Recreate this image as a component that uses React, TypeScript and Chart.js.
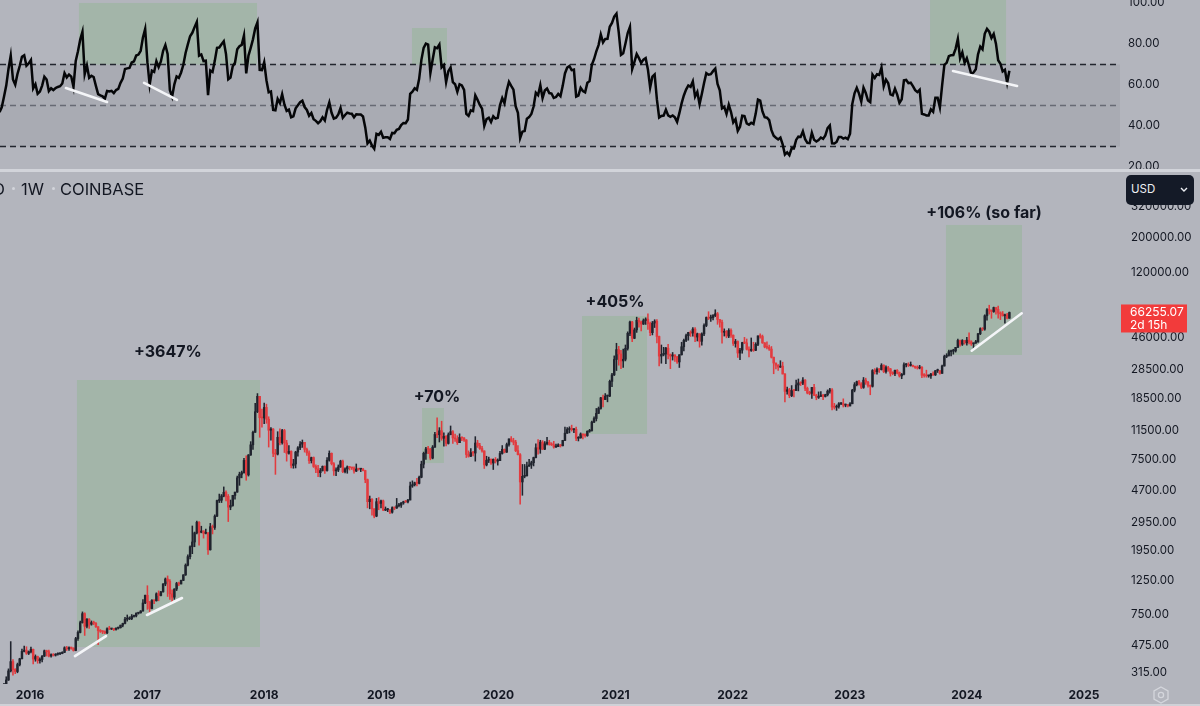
import React, { useEffect, useRef } from "react";
import { Chart, registerables } from "chart.js";

Chart.register(...registerables);

const FONT = "Inter, 'Noto Sans', 'DejaVu Sans', sans-serif";
const BG = "#b3b5bd";
const BAND = "#a9abb3";
const BOX = "#a3b5a9";
const UP = "#20242e";
const DOWN = "#e23b3f";
const INK = "#131722";
const AXIS_W = 80;

// Weekly BTCUSD (Coinbase) bars, first Monday shown
const firstWeekMonday = "2015-09-28";
const barCountdown = "2d 15h";
const rsiLength = 14;

// weekly closes before the visible range (Dec 2014 - Sep 2015), used only to seed RSI
const warmupCloses = [
  264, 265, 210, 253, 226, 223, 234, 245, 260, 275, 286, 268, 252, 260, 236, 223, 219, 240, 240, 237,
  240, 230, 225, 233, 245, 250, 270, 310, 275, 289, 281, 265, 259, 229, 229, 240, 231, 231, 233,
];

const closes = [
  // 2015 (from Sep 28)
  239, 246, 263, 284, 325, 373, 332, 322, 357, 389, 434, 442, 422, 432,
  // 2016
  448, 387, 402, 378, 385, 405, 438, 432, 405, 414, 410, 416, 419, 421, 428, 458, 451, 459, 456, 440,
  525, 575, 665, 760, 630, 700, 650, 665, 660, 625, 590, 585, 581, 572, 607, 605, 608, 601, 613, 617,
  640, 657, 700, 703, 705, 730, 735, 765, 770, 790, 890, 998,
  // 2017
  905, 820, 925, 920, 1020, 995, 1050, 1180, 1270, 1230, 1020, 970, 1095, 1190, 1180, 1245, 1350, 1560,
  1770, 2050, 2200, 2520, 2950, 2540, 2590, 2500, 2510, 1960, 2760, 2730, 3230, 4070, 4090, 4350, 4600,
  4330, 3690, 3780, 4390, 4610, 5700, 6010, 6150, 7380, 5950, 8000, 9300, 11200, 15200, 19100, 13900, 13850,
  // 2018
  16200, 13600, 11550, 11750, 8200, 8100, 10400, 9600, 11500, 9550, 8200, 8450, 6850, 7000, 8350, 8900,
  9400, 9650, 8700, 8250, 7350, 7700, 6750, 6500, 6150, 6350, 6750, 6350, 7400, 8200, 7030, 6320, 6400,
  6700, 7300, 6250, 6500, 6700, 6630, 6600, 6300, 6500, 6480, 6480, 6350, 5550, 4000, 4150, 3600, 3230,
  4000, 3900, 4050,
  // 2019
  3530, 3550, 3550, 3420, 3660, 3640, 3770, 3800, 3930, 4000, 3990, 4100, 5050, 5150, 5300, 5250, 5750,
  6980, 8200, 8750, 8720, 7640, 8990, 10850, 10800, 11450, 10250, 10550, 9500, 10800, 11300, 10300, 10150,
  9600, 10380, 10300, 10000, 8050, 7850, 8300, 8230, 9550, 9200, 8800, 8500, 6900, 7400, 7500, 7100, 7500,
  7300, 7350,
  // 2020
  8180, 8700, 8350, 9340, 10150, 9900, 9670, 8530, 8030, 5360, 5830, 5880, 6780, 6900, 7130, 7700, 8900,
  8720, 9680, 8720, 9450, 9660, 9330, 9300, 9000, 9070, 9300, 9170, 9930, 11050, 11680, 11850, 11650, 11700,
  10250, 10330, 10920, 10740, 10670, 11370, 11500, 13030, 13740, 14830, 15960, 18680, 18200, 19150, 19170,
  23850, 26250, 33000,
  // 2021
  38200, 35800, 32300, 33100, 38900, 48600, 57500, 45200, 51200, 59000, 57500, 55800, 58700, 60000, 56200,
  49100, 56600, 58200, 46400, 34700, 35600, 35800, 39000, 35500, 34700, 35300, 34250, 31800, 35400, 39850,
  43800, 47000, 49300, 48800, 51750, 46000, 48300, 43200, 48200, 54650, 61500, 60900, 61300, 63300, 65000,
  59700, 57300, 49400, 50100, 46700, 50800, 47300,
  // 2022
  41800, 43100, 36300, 37900, 42400, 42200, 38400, 37700, 38400, 37800, 41300, 46800, 46400, 42200, 39700,
  39500, 38500, 34100, 31300, 30300, 29450, 29900, 26600, 20550, 21050, 19300, 20850, 20800, 22600, 23300,
  23200, 24300, 21500, 20050, 19950, 21800, 19400, 18800, 19050, 19450, 19050, 19550, 20600, 21000, 16300,
  16250, 16450, 17100, 17100, 16750, 16850, 16550,
  // 2023
  17100, 20900, 22700, 23750, 22950, 21800, 24300, 23550, 22400, 22150, 28000, 27500, 28450, 28350, 30300,
  27600, 29250, 28700, 26900, 26750, 28100, 27200, 25850, 26500, 30500, 30600, 30150, 30250, 29800, 29300,
  29050, 29400, 26100, 26000, 25850, 25850, 26550, 26250, 27950, 27950, 26850, 29950, 34500, 35050, 37050,
  37400, 37450, 39450, 43750, 41350, 43700, 42250,
  // 2024
  43950, 42850, 41600, 42100, 43000, 48300, 52100, 51700, 63100, 68950, 68400, 67200, 71300, 69350, 65700,
  64900, 63100, 63900, 60800, 66255.07,
];

const highs = [
  249, 250, 270, 298, 335, 502, 385, 336, 365, 392, 450, 470, 465, 437,
  462, 450, 412, 405, 395, 408, 443, 442, 442, 418, 420, 420, 425, 425, 432, 465, 468, 465, 462, 458,
  535, 590, 680, 780, 770, 705, 705, 682, 680, 665, 628, 600, 590, 590, 615, 630, 612, 610, 615, 622,
  642, 660, 720, 745, 725, 750, 745, 770, 775, 795, 935, 1000,
  1150, 910, 935, 930, 1035, 1065, 1060, 1185, 1290, 1330, 1260, 1080, 1100, 1210, 1215, 1250, 1355, 1590,
  1820, 2080, 2790, 2550, 3000, 2980, 2780, 2600, 2660, 2540, 2900, 2830, 3290, 4100, 4480, 4450, 4980,
  4700, 4450, 4100, 4400, 4620, 5850, 6200, 6300, 7600, 7900, 8050, 9750, 11400, 17200, 19890, 19100, 15800,
  17250, 17000, 14100, 12000, 11850, 8700, 11300, 11800, 11700, 11700, 9950, 9200, 8500, 7500, 8450, 9050,
  9760, 9990, 9650, 8850, 8500, 7750, 7770, 6900, 6850, 6550, 6800, 6800, 7700, 8500, 8250, 7150, 6600,
  6900, 7400, 7420, 6600, 6800, 6750, 6650, 6700, 7000, 6550, 6500, 6570, 6380, 5600, 4350, 4190, 3600,
  4200, 4250, 4100,
  4100, 3700, 3620, 3560, 3700, 3700, 4200, 3900, 3950, 4030, 4080, 4150, 5350, 5450, 5350, 5650, 5850,
  7300, 8350, 8950, 9100, 8820, 9200, 11200, 13880, 12000, 13200, 11100, 10650, 11100, 12300, 11500, 10900,
  10650, 10950, 10450, 10350, 10050, 8500, 8800, 8450, 10500, 9950, 9500, 9100, 8500, 7850, 7750, 7550, 7550,
  7700, 7550,
  8450, 9200, 8750, 9550, 10150, 10500, 10250, 9950, 9200, 8180, 6950, 6950, 7200, 7500, 7300, 7750, 9450,
  10050, 9950, 9900, 9750, 10400, 9950, 9600, 9800, 9400, 9450, 9350, 9950, 12100, 12000, 12150, 12450, 11800,
  12100, 10500, 11100, 10950, 10950, 11450, 11700, 13250, 14100, 15950, 16300, 18800, 19450, 19900, 19450,
  24300, 26900, 34800,
  41950, 40100, 37850, 38500, 40900, 49700, 58350, 58000, 52600, 61800, 61000, 58400, 60200, 61200, 64900,
  57500, 58000, 59500, 59600, 46700, 40900, 39500, 39500, 41300, 35800, 36600, 35100, 34600, 35400, 42600,
  44700, 48150, 49400, 50500, 52900, 52950, 48800, 48300, 49000, 56000, 62000, 67000, 63700, 64300, 69000,
  66300, 59500, 59100, 51950, 50700, 52100, 52000,
  47500, 44450, 43500, 38900, 42600, 45800, 44700, 39800, 45400, 42600, 42300, 46900, 48200, 47400, 42400,
  42900, 40800, 40000, 34200, 31300, 30600, 32400, 31700, 26800, 21900, 21500, 22400, 21000, 24300, 24700,
  23700, 25200, 24450, 21900, 20600, 21850, 22800, 19700, 20400, 20500, 19700, 19700, 21000, 21500, 21450,
  17200, 16800, 17400, 17400, 18400, 17050, 16950,
  17400, 21200, 23400, 23950, 24250, 23400, 25250, 25000, 23900, 22600, 28400, 28800, 29200, 28800, 31000,
  30500, 30000, 29800, 28900, 27500, 28200, 28450, 27400, 26800, 31400, 31000, 31400, 31800, 30350, 29900,
  30050, 30250, 29700, 26800, 28150, 26150, 26900, 27500, 28000, 28600, 28000, 30400, 35200, 35950, 37950,
  37950, 38400, 39500, 44700, 44000, 44300, 43800,
  45900, 49050, 43550, 42200, 43850, 48600, 52800, 52900, 64000, 70200, 73800, 68900, 71800, 71300, 72800,
  66900, 67200, 64700, 65500, 66700,
];

const lows = [
  235, 237, 244, 262, 282, 320, 305, 312, 316, 350, 388, 430, 415, 414,
  425, 360, 375, 364, 365, 372, 402, 405, 400, 398, 405, 405, 410, 414, 419, 426, 440, 440, 448, 436,
  438, 510, 570, 660, 550, 615, 610, 640, 645, 620, 480, 575, 565, 565, 565, 600, 600, 590, 595, 605,
  613, 625, 652, 680, 695, 695, 720, 725, 755, 765, 788, 880,
  810, 750, 815, 880, 915, 920, 990, 1045, 1150, 980, 940, 890, 940, 1070, 1150, 1180, 1240, 1340,
  1540, 1710, 1850, 2050, 2480, 2100, 2520, 2330, 2480, 1830, 1950, 2480, 2650, 3200, 3950, 3950, 4300,
  4050, 2980, 3550, 3740, 4160, 4600, 5100, 5700, 6100, 5500, 5850, 7950, 8700, 11200, 15000, 10400, 12100,
  12750, 12800, 9000, 9950, 7800, 6000, 8000, 9300, 9400, 8300, 7300, 8100, 6600, 6570, 6600, 7850,
  8650, 8950, 8350, 7950, 7070, 7100, 6650, 6150, 5800, 5780, 6300, 6080, 6300, 7300, 6900, 5900, 5880,
  6250, 6650, 6150, 6120, 6100, 6400, 6450, 6100, 6250, 6380, 6250, 6320, 5300, 3650, 3600, 3280, 3150,
  3200, 3550, 3650,
  3500, 3500, 3450, 3350, 3380, 3550, 3620, 3700, 3670, 3850, 3950, 3930, 4100, 4950, 5050, 5050, 5200,
  5700, 6600, 7500, 8150, 7450, 7550, 8950, 10350, 9700, 9950, 9100, 9150, 9400, 10800, 9500, 9800,
  9350, 9600, 9900, 9800, 7700, 7750, 7800, 7900, 7300, 8950, 8700, 8350, 6550, 6800, 7150, 6950, 6450,
  7100, 6880,
  7350, 8100, 8250, 8300, 9100, 9700, 9300, 8400, 8000, 3850, 4400, 5700, 5850, 6750, 6550, 6800, 7650,
  8100, 8200, 8650, 8650, 9300, 9250, 9200, 8850, 8950, 9050, 9000, 9150, 9900, 11000, 11100, 11400, 11150,
  9900, 9850, 10250, 10150, 10400, 10550, 11200, 11400, 12900, 13250, 14800, 15800, 16300, 18200, 17600,
  19000, 22000, 26000,
  28000, 30300, 28800, 29300, 32300, 37900, 47000, 43000, 44900, 49300, 53300, 50400, 55400, 55500, 51500,
  47000, 47500, 53000, 42100, 30000, 31200, 34800, 31000, 33300, 28800, 32700, 32100, 31100, 29300, 35200,
  37500, 43000, 43900, 46400, 46600, 43000, 43400, 39600, 40800, 46900, 53700, 59600, 58000, 59400, 62300,
  55600, 53200, 42000, 46700, 45500, 45600, 45700,
  40600, 39600, 34000, 32900, 36200, 41700, 38000, 34300, 37200, 37200, 37600, 40500, 45200, 41900, 39200,
  38600, 37700, 33700, 26700, 28700, 28000, 29300, 26600, 17600, 19700, 18700, 19000, 18900, 20750, 20700,
  22400, 22700, 20800, 19800, 19550, 18500, 19300, 18150, 18500, 19100, 18200, 18900, 19200, 20050, 15600,
  15800, 15500, 16000, 16850, 16300, 16350, 16350,
  16550, 17100, 20400, 22300, 22500, 21400, 21500, 22800, 21900, 19550, 21900, 26600, 26500, 27200, 28200,
  27150, 26950, 27700, 25800, 26300, 25900, 26600, 25400, 24800, 26250, 29500, 29700, 29900, 29500, 28900,
  28600, 28700, 25200, 25350, 25350, 25350, 24900, 26000, 26000, 27200, 26550, 26900, 29900, 33900, 34600,
  34800, 35700, 36800, 39400, 40200, 40600, 41400,
  40800, 41500, 40650, 38500, 41800, 42550, 47700, 50600, 50900, 59000, 64600, 60800, 66400, 64500, 60900,
  59600, 62800, 56500, 60200, 60800,
];

// axis ticks
const yearTicks = [2016, 2017, 2018, 2019, 2020, 2021, 2022, 2023, 2024, 2025];
const priceTicks = [315, 475, 750, 1250, 1950, 2950, 4700, 7500, 11500, 18500, 28500, 46000, 120000, 200000, 320000];
const rsiTicks = [20, 40, 60, 80, 100];
const rsiLevels = [70, 50, 30];
const rsiBand = [30, 70];

// visible ranges
const X_MIN = 2015.744;
const X_MAX = 2025.308;
const PRICE_MIN = 267.6;
const PRICE_MAX = 532500;
const RSI_MIN = 19.02;
const RSI_MAX = 101.46;

// annotations (fractional year, value)
const priceBoxes = [
  { x0: 2016.401, x1: 2017.964, lo: 463, hi: 24330 },
  { x0: 2019.348, x1: 2019.535, lo: 7100, hi: 16060 },
  { x0: 2020.714, x1: 2021.269, lo: 10920, hi: 62900 },
  { x0: 2023.822, x1: 2024.471, lo: 35270, hi: 242600 },
];
const priceLabels = [
  { text: "+3647%", x: 2017.178, y: 36870 },
  { text: "+70%", x: 2019.476, y: 18910 },
  { text: "+405%", x: 2020.996, y: 77410 },
  { text: "+106% (so far)", x: 2024.147, y: 290000 },
];
const priceTrendLines = [
  { x0: 2016.384, y0: 405, x1: 2016.649, y1: 545 },
  { x0: 2016.999, y0: 745, x1: 2017.298, y1: 958 },
  { x0: 2024.042, y0: 37580, x1: 2024.469, y1: 65460 },
];
const rsiBoxes = [
  { x0: 2016.418, x1: 2017.939, lo: 70, hi: 100 },
  { x0: 2019.262, x1: 2019.561, lo: 70, hi: 87.8 },
  { x0: 2023.686, x1: 2024.335, lo: 70, hi: 102 },
];
const rsiTrendLines = [
  { x0: 2016.307, y0: 58.5, x1: 2016.658, y1: 51.7 },
  { x0: 2016.974, y0: 61.0, x1: 2017.255, y1: 52.7 },
  { x0: 2023.882, y0: 66.8, x1: 2024.429, y1: 59.5 },
];

const DAY = 86400000;
const T0 = Date.parse(firstWeekMonday + "T00:00:00Z");
function yearFrac(ms: number) {
  const d = new Date(ms);
  const y = d.getUTCFullYear();
  const a = Date.UTC(y, 0, 1);
  const b = Date.UTC(y + 1, 0, 1);
  return y + (ms - a) / (b - a);
}
function computeRsi(series: number[], n: number) {
  const out: (number | null)[] = [null];
  let up = 0;
  let dn = 0;
  for (let i = 1; i < series.length; i++) {
    const ch = series[i] - series[i - 1];
    const u = Math.max(ch, 0);
    const d = Math.max(-ch, 0);
    if (i <= n) {
      up += u / n;
      dn += d / n;
    } else {
      up = (up * (n - 1) + u) / n;
      dn = (dn * (n - 1) + d) / n;
    }
    out.push(i < n ? null : dn === 0 ? 100 : 100 - 100 / (1 + up / dn));
  }
  return out;
}

const weekX = closes.map((_, i) => yearFrac(T0 + i * 7 * DAY));
const opens = closes.map((_, i) => (i === 0 ? warmupCloses[warmupCloses.length - 1] : closes[i - 1]));
const rsi = computeRsi([...warmupCloses, ...closes], rsiLength).slice(warmupCloses.length);

function clipArea(ctx: any, a: any) {
  ctx.beginPath();
  ctx.rect(a.left, a.top, a.right - a.left, a.bottom - a.top);
  ctx.clip();
}
function drawBoxes(chart: any, boxes: any[]) {
  const { ctx, chartArea: a, scales } = chart;
  ctx.save();
  clipArea(ctx, a);
  ctx.fillStyle = BOX;
  for (const b of boxes) {
    const x0 = scales.x.getPixelForValue(b.x0);
    const x1 = scales.x.getPixelForValue(b.x1);
    const yt = scales.y.getPixelForValue(b.hi);
    const yb = scales.y.getPixelForValue(b.lo);
    ctx.fillRect(x0, yt, x1 - x0, yb - yt);
  }
  ctx.restore();
}
function drawTrend(chart: any, lines: any[]) {
  const { ctx, chartArea: a, scales } = chart;
  ctx.save();
  clipArea(ctx, a);
  ctx.strokeStyle = "#f4f5f8";
  ctx.lineWidth = 2.6;
  ctx.lineCap = "round";
  for (const l of lines) {
    ctx.beginPath();
    ctx.moveTo(scales.x.getPixelForValue(l.x0), scales.y.getPixelForValue(l.y0));
    ctx.lineTo(scales.x.getPixelForValue(l.x1), scales.y.getPixelForValue(l.y1));
    ctx.stroke();
  }
  ctx.restore();
}

const rsiDecor = {
  id: "rsiDecor",
  beforeDatasetsDraw(chart: any) {
    const { ctx, chartArea: a, scales } = chart;
    const y = scales.y;
    ctx.save();
    clipArea(ctx, a);
    const yTop = y.getPixelForValue(rsiBand[1]);
    const yBot = y.getPixelForValue(rsiBand[0]);
    ctx.fillStyle = BAND;
    ctx.fillRect(a.left, yTop, a.right - a.left, yBot - yTop);
    ctx.restore();
    drawBoxes(chart, rsiBoxes);
    ctx.save();
    clipArea(ctx, a);
    ctx.lineWidth = 1.4;
    ctx.setLineDash([6, 4]);
    for (const lv of rsiLevels) {
      ctx.strokeStyle = lv === 50 ? "#676a74" : "#23262f";
      const yy = Math.round(y.getPixelForValue(lv)) + 0.5;
      ctx.beginPath();
      ctx.moveTo(a.left, yy);
      ctx.lineTo(a.right, yy);
      ctx.stroke();
    }
    ctx.restore();
  },
  afterDatasetsDraw(chart: any) {
    drawTrend(chart, rsiTrendLines);
  },
};

const priceDecor = {
  id: "priceDecor",
  beforeDatasetsDraw(chart: any) {
    drawBoxes(chart, priceBoxes);
  },
  afterDatasetsDraw(chart: any) {
    drawTrend(chart, priceTrendLines);
    const { ctx, scales } = chart;
    ctx.save();
    ctx.fillStyle = INK;
    ctx.font = "bold 16px " + FONT;
    ctx.textAlign = "center";
    ctx.textBaseline = "middle";
    for (const t of priceLabels) {
      ctx.fillText(t.text, scales.x.getPixelForValue(t.x), scales.y.getPixelForValue(t.y));
    }
    ctx.restore();
  },
  afterDraw(chart: any) {
    const { ctx, chartArea: a, scales } = chart;
    const last = closes[closes.length - 1];
    const yv = scales.y.getPixelForValue(last);
    ctx.save();
    ctx.fillStyle = "#f23b3b";
    ctx.fillRect(a.right + 1, yv - 8, 66, 28);
    ctx.fillStyle = "#ffffff";
    ctx.font = "12px " + FONT;
    ctx.textAlign = "left";
    ctx.textBaseline = "middle";
    ctx.fillText(last.toFixed(2), a.right + 10, yv);
    ctx.fillText(barCountdown, a.right + 10, yv + 13);
    ctx.restore();
  },
};

export default function App() {
  const rsiRef = useRef<HTMLCanvasElement>(null);
  const priceRef = useRef<HTMLCanvasElement>(null);

  useEffect(() => {
    Chart.defaults.font.family = FONT;
    Chart.defaults.color = INK;

    const rsiChart = new Chart(rsiRef.current as any, {
      type: "line",
      data: {
        datasets: [
          {
            data: weekX.map((x, i) => ({ x, y: rsi[i] })),
            borderColor: "#050608",
            borderWidth: 2.5,
            pointRadius: 0,
            tension: 0,
            clip: 0,
          } as any,
        ],
      },
      options: {
        animation: false,
        responsive: false,
        devicePixelRatio: 1,
        events: [],
        layout: { padding: 0 },
        plugins: { legend: { display: false }, tooltip: { enabled: false } },
        scales: {
          x: { type: "linear", display: false, min: X_MIN, max: X_MAX, offset: false },
          y: {
            type: "linear",
            position: "right",
            min: RSI_MIN,
            max: RSI_MAX,
            grid: { display: false, drawTicks: false },
            border: { display: false },
            ticks: {
              padding: 8,
              autoSkip: false,
              color: INK,
              font: { size: 11.5 },
              callback: (v: any) => Number(v).toFixed(2),
            },
            afterBuildTicks: (s: any) => {
              s.ticks = rsiTicks.map((value) => ({ value }));
            },
            afterFit: (s: any) => {
              s.width = AXIS_W;
              s.paddingTop = 0;
              s.paddingBottom = 0;
            },
          },
        },
      } as any,
      plugins: [rsiDecor],
    });

    const colors = closes.map((c, i) => (c >= opens[i] ? UP : DOWN));
    const priceChart = new Chart(priceRef.current as any, {
      type: "bar",
      data: {
        datasets: [
          {
            data: weekX.map((x, i) => ({ x, y: [opens[i], closes[i]] })),
            backgroundColor: colors,
            borderWidth: 0,
            barThickness: 1.8,
            minBarLength: 1,
            grouped: false,
            clip: 0,
            order: 0,
          } as any,
          {
            data: weekX.map((x, i) => ({
              x,
              y: [Math.min(lows[i], opens[i], closes[i]), Math.max(highs[i], opens[i], closes[i])],
            })),
            backgroundColor: colors,
            borderWidth: 0,
            barThickness: 0.9,
            grouped: false,
            clip: 0,
            order: 1,
          } as any,
        ],
      },
      options: {
        animation: false,
        responsive: false,
        devicePixelRatio: 1,
        events: [],
        layout: { padding: 0 },
        plugins: { legend: { display: false }, tooltip: { enabled: false } },
        scales: {
          x: {
            type: "linear",
            min: X_MIN,
            max: X_MAX,
            offset: false,
            grid: { display: false, drawTicks: false },
            border: { display: false },
            ticks: {
              padding: 4,
              autoSkip: false,
              maxRotation: 0,
              color: INK,
              font: { size: 12, weight: "bold" },
              callback: (v: any) => String(v),
            },
            afterBuildTicks: (s: any) => {
              s.ticks = yearTicks.map((value) => ({ value }));
            },
            afterFit: (s: any) => {
              s.height = 20;
              s.paddingLeft = 0;
              s.paddingRight = 0;
            },
          },
          y: {
            type: "logarithmic",
            position: "right",
            min: PRICE_MIN,
            max: PRICE_MAX,
            beginAtZero: false,
            grid: { display: false, drawTicks: false },
            border: { display: false },
            ticks: {
              padding: 11,
              autoSkip: false,
              color: INK,
              font: { size: 11.5 },
              callback: (v: any) => Number(v).toFixed(2),
            },
            afterBuildTicks: (s: any) => {
              s.ticks = priceTicks.map((value) => ({ value }));
            },
            afterFit: (s: any) => {
              s.width = AXIS_W;
              s.paddingTop = 0;
              s.paddingBottom = 0;
            },
          },
        },
      } as any,
      plugins: [priceDecor],
    });

    return () => {
      rsiChart.destroy();
      priceChart.destroy();
    };
  }, []);

  const abs = (o: any) => ({ position: "absolute" as const, ...o });
  const dot = (left: number) => (
    <div style={abs({ left, top: 187, width: 3, height: 3, borderRadius: 2, background: "#d3d5db" })} />
  );

  return (
    <div
      style={{
        position: "fixed",
        left: 0,
        top: 0,
        width: 1200,
        height: 706,
        background: BG,
        overflow: "hidden",
        fontFamily: FONT,
        color: INK,
      }}
    >
      <canvas ref={rsiRef} width={1200} height={169} style={abs({ left: 0, top: 0, width: 1200, height: 169 })} />
      <div style={abs({ left: 0, top: 169, width: 1200, height: 3, background: "#d2d4da" })} />
      <canvas ref={priceRef} width={1200} height={532} style={abs({ left: 0, top: 172, width: 1200, height: 532 })} />
      <div style={abs({ left: 0, top: 704, width: 1200, height: 2, background: "#cfd1d7" })} />

      <div style={abs({ left: -7, top: 178, fontSize: 16.5, lineHeight: "22px", whiteSpace: "nowrap" })}>D</div>
      {dot(12)}
      <div style={abs({ left: 21, top: 178, fontSize: 16.5, lineHeight: "22px", whiteSpace: "nowrap" })}>1W</div>
      {dot(52)}
      <div style={abs({ left: 60, top: 178, fontSize: 16.5, lineHeight: "22px", whiteSpace: "nowrap" })}>COINBASE</div>

      <div
        style={abs({
          left: 1126,
          top: 175,
          width: 68,
          height: 30,
          borderRadius: 5,
          background: "#141a27",
          color: "#eceef2",
          fontSize: 11.5,
          lineHeight: "29px",
        })}
      >
        <span style={{ marginLeft: 5 }}>USD</span>
        <svg width="8" height="6" viewBox="0 0 8 6" style={abs({ right: 6, top: 12 })}>
          <polyline points="1,1 4,4 7,1" fill="none" stroke="#eceef2" strokeWidth="1.4" />
        </svg>
      </div>

      <svg width="20" height="20" viewBox="0 0 20 20" style={abs({ left: 1151, top: 685 })}>
        <polygon points="10,2 17,6 17,14 10,18 3,14 3,6" fill="none" stroke="#d4d6dc" strokeWidth="1.3" />
        <circle cx="10" cy="10" r="2.6" fill="none" stroke="#d4d6dc" strokeWidth="1.3" />
      </svg>
    </div>
  );
}
